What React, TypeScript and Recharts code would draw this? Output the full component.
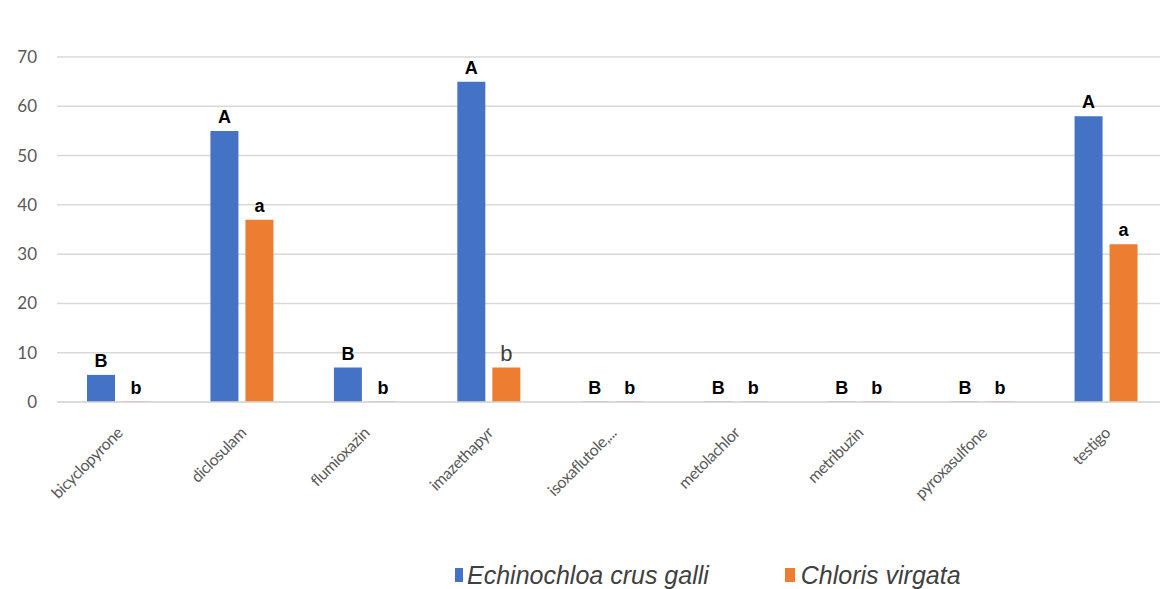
import React from 'react';
import { BarChart, Bar, XAxis, YAxis, CartesianGrid, Legend, LabelList } from 'recharts';

const categories = [
  'bicyclopyrone',
  'diclosulam',
  'flumioxazin',
  'imazethapyr',
  'isoxaflutole,...',
  'metolachlor',
  'metribuzin',
  'pyroxasulfone',
  'testigo',
];
const echinochloa = [5.5, 55, 7, 65, 0, 0, 0, 0, 58];
const chloris = [0, 37, 0, 7, 0, 0, 0, 0, 32];
const echinochloaLetters = ['B', 'A', 'B', 'A', 'B', 'B', 'B', 'B', 'A'];
const chlorisLetters = ['b', 'a', 'b', 'b', 'b', 'b', 'b', 'b', 'a'];
const yTicks = [0, 10, 20, 30, 40, 50, 60, 70];

const BLUE = '#4472C4';
const ORANGE = '#ED7D31';
const AXIS_GREY = '#595959';

const data = categories.map((name, i) => ({
  name,
  echinochloa: echinochloa[i],
  chloris: chloris[i],
  echinochloaLetter: echinochloaLetters[i],
  chlorisLetter: chlorisLetters[i],
}));

const AngledTick = (props: any) => {
  const { x, y, payload } = props;
  const ax = x + 5;
  const ay = y + 32;
  return (
    <text
      x={ax}
      y={ay}
      transform={`rotate(-45, ${ax}, ${ay})`}
      textAnchor="end"
      fill={AXIS_GREY}
      fontSize={16}
      letterSpacing={-0.4}
      fontFamily="Lato, sans-serif"
    >
      {payload.value}
    </text>
  );
};

// the imazethapyr letter of Chloris is drawn in a plain, larger face in the original
const letterLabel = (plainIndex: number | null) => (props: any) => {
  const { x, y, width, index, value } = props;
  const plain = index === plainIndex;
  return (
    <text
      x={x + width / 2}
      y={y - (plain ? 7 : 8)}
      textAnchor="middle"
      fill={plain ? '#404040' : '#000'}
      fontSize={plain ? 22 : 18}
      fontWeight={plain ? 400 : 700}
      fontFamily="'Liberation Sans', Arial, sans-serif"
    >
      {value}
    </text>
  );
};

const LegendContent = () => (
  <div
    style={{
      display: 'flex',
      alignItems: 'center',
      paddingLeft: 447,
      paddingTop: 20,
      fontFamily: "'Liberation Sans', Arial, sans-serif",
      fontStyle: 'italic',
      fontSize: 25,
      color: '#404040',
    }}
  >
    <span style={{ width: 8, height: 14, background: BLUE, marginRight: 4, display: 'inline-block' }} />
    <span style={{ lineHeight: '28px' }}>Echinochloa crus galli</span>
    <span style={{ width: 10, height: 14, background: ORANGE, marginLeft: 76, marginRight: 6, display: 'inline-block' }} />
    <span style={{ lineHeight: '28px' }}>Chloris virgata</span>
  </div>
);

export default function App() {
  return (
    <div style={{ width: 1160, height: 581, background: '#fff' }}>
      <BarChart
        width={1160}
        height={581}
        data={data}
        margin={{ top: 49, right: 0, left: 0, bottom: 0 }}
        barSize={28}
        barGap={7}
      >
        <CartesianGrid horizontal vertical={false} stroke="#d9d9d9" strokeWidth={1.5} />
        <XAxis
          dataKey="name"
          interval={0}
          height={139}
          tick={<AngledTick />}
          tickLine={false}
          tickSize={0}
          tickMargin={0}
          axisLine={{ stroke: '#d9d9d9', strokeWidth: 1.5 }}
        />
        <YAxis
          width={49}
          domain={[0, 70]}
          ticks={yTicks}
          axisLine={false}
          tickLine={false}
          tickMargin={14}
          tick={{ fill: AXIS_GREY, fontSize: 17, fontFamily: 'Lato, sans-serif' }}
        />
        <Legend verticalAlign="bottom" height={48} content={<LegendContent />} />
        <Bar
          dataKey="echinochloa"
          name="Echinochloa crus galli"
          fill={BLUE}
          minPointSize={0.5}
          isAnimationActive={false}
        >
          <LabelList dataKey="echinochloaLetter" content={letterLabel(null)} />
        </Bar>
        <Bar
          dataKey="chloris"
          name="Chloris virgata"
          fill={ORANGE}
          minPointSize={0.5}
          isAnimationActive={false}
        >
          <LabelList dataKey="chlorisLetter" content={letterLabel(3)} />
        </Bar>
      </BarChart>
    </div>
  );
}
